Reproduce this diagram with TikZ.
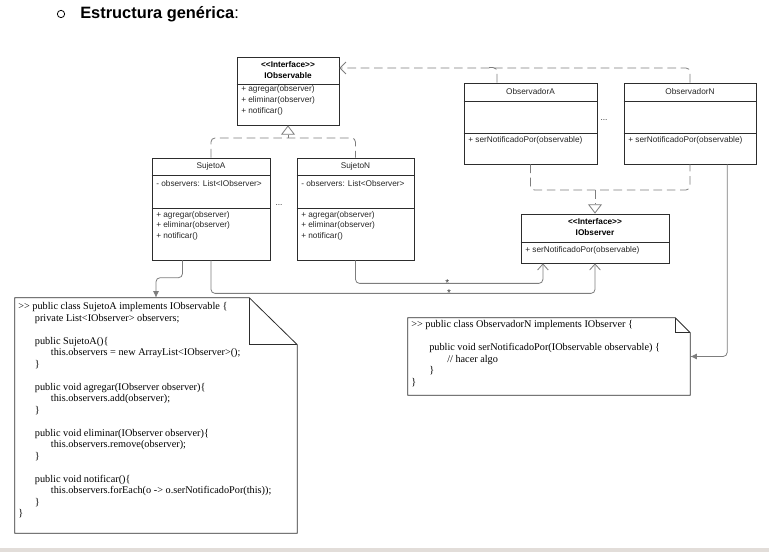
\documentclass[tikz,border=0pt]{standalone}
\usepackage{fontspec}
\setmainfont{Liberation Serif}
\setsansfont{Liberation Sans}
\usetikzlibrary{positioning,fit,calc,arrows.meta}

\definecolor{linegray}{RGB}{125,125,125}
\definecolor{boxline}{RGB}{45,45,45}
\definecolor{bandgray}{RGB}{226,221,217}

\tikzset{
  umlbox/.style={draw=boxline,line width=0.6pt,inner sep=0pt},
  divider/.style={draw=boxline,line width=0.6pt},
  boxname/.style={font=\sffamily\fontsize{6.2}{7}\selectfont,text=black!85,inner sep=0pt},
  boxhead/.style={font=\sffamily\bfseries\fontsize{6.2}{8.25}\selectfont,align=center,inner sep=0pt},
  members/.style={font=\sffamily\fontsize{6.2}{7.9}\selectfont,align=left,anchor=north west,inner sep=0pt,text=black!85},
  codetext/.style={font=\fontsize{7.7}{8.625}\selectfont,align=left,anchor=north west,inner sep=0pt},
  realize/.style={draw=linegray,dash pattern=on 6.5pt off 3.5pt,line width=0.6pt},
  assoc/.style={draw=linegray,line width=0.6pt,rounded corners=3pt},
  star/.style={font=\sffamily\fontsize{7.5}{8}\selectfont,inner sep=0pt,text=black!80},
}

\begin{document}
\begin{tikzpicture}[x=0.75pt,y=-0.75pt]
\useasboundingbox (0,0) rectangle (769,552);
\fill[bandgray] (0,548) rectangle (769,552);

% title
\node[circle,draw,line width=0.6pt,inner sep=0pt,minimum size=5.5pt] (bullet) at (61,14) {};
\node[anchor=base west,font=\sffamily\bfseries\fontsize{12.3}{15}\selectfont,inner sep=0pt] (title) at (80,19) {Estructura genérica\textmd{:}};

% class boxes
\node[umlbox,fit={(237,57) (339,125)}] (iobs) {};
\node[umlbox,fit={(152,158) (270,260)}] (sujA) {};
\node[umlbox,fit={(297,158) (414,260)}] (sujN) {};
\node[umlbox,fit={(464,83) (597,164)}] (obsA) {};
\node[umlbox,fit={(624,83) (756,164)}] (obsN) {};
\node[umlbox,fit={(521,214) (669,263)}] (iobsr) {};

\draw[divider] (iobs.west |- 0,84) -- (iobs.east |- 0,84);
\draw[divider] (iobsr.west |- 0,242) -- (iobsr.east |- 0,242);
\foreach \b in {sujA,sujN}{
  \draw[divider] (\b.west |- 0,175) -- (\b.east |- 0,175);
  \draw[divider] (\b.west |- 0,208) -- (\b.east |- 0,208);
}
\foreach \b in {obsA,obsN}{
  \draw[divider] (\b.west |- 0,101) -- (\b.east |- 0,101);
  \draw[divider] (\b.west |- 0,133) -- (\b.east |- 0,133);
}

\node[boxhead] (iobshead) at (288,70.5) {<{}<Interface>{}>\\IObservable};
\node[members] (iobsops) at (241,85) {+ agregar(observer)\\[0.35pt]+ eliminar(observer)\\[0.35pt]+ notificar()};

\node[boxname] (sujAname) at (211,166) {SujetoA};
\node[members] (sujAattr) at (156,180) {- observers: List<IObserver>};
\node[members] (sujAops) at (156,211) {+ agregar(observer)\\+ eliminar(observer)\\+ notificar()};

\node[boxname] (sujNname) at (355.5,166) {SujetoN};
\node[members] (sujNattr) at (301,180) {- observers: List<Observer>};
\node[members] (sujNops) at (301,211) {+ agregar(observer)\\+ eliminar(observer)\\+ notificar()};

\node[boxname] (dotsS) at (279,205) {...};

\node[boxname] (obsAname) at (530.5,91.5) {ObservadorA};
\node[members] (obsAops) at (468,136) {+ serNotificadoPor(observable)};
\node[boxname] (obsNname) at (690,91.5) {ObservadorN};
\node[members] (obsNops) at (628,136) {+ serNotificadoPor(observable)};
\node[boxname] (dotsO) at (604,120) {...};

\node[boxhead] (iobsrhead) at (595,227.5) {<{}<Interface>{}>\\IObserver};
\node[members] (iobsrops) at (525,246) {+ serNotificadoPor(observable)};

% code notes
\node[fit={(15,298) (297,533)},inner sep=0pt] (codeA) {};
\draw[umlbox] (codeA.north west) -- ($(codeA.north east)+(-48,0)$) -- ($(codeA.north east)+(0,47)$) -- (codeA.south east) -- (codeA.south west) -- cycle;
\draw[umlbox] ($(codeA.north east)+(-48,0)$) |- ($(codeA.north east)+(0,47)$);
\node[codetext] (codeAtext) at (18,302.5) {%
>{}> public class SujetoA implements IObservable \{\\
\hspace*{12.5pt}private List<IObserver> observers;\\
\mbox{}\\
\hspace*{12.5pt}public SujetoA()\{\\
\hspace*{24.5pt}this.observers = new ArrayList<IObserver>();\\
\hspace*{12.5pt}\}\\
\mbox{}\\
\hspace*{12.5pt}public void agregar(IObserver observer)\{\\
\hspace*{24.5pt}this.observers.add(observer);\\
\hspace*{12.5pt}\}\\
\mbox{}\\
\hspace*{12.5pt}public void eliminar(IObserver observer)\{\\
\hspace*{24.5pt}this.observers.remove(observer);\\
\hspace*{12.5pt}\}\\
\mbox{}\\
\hspace*{12.5pt}public void notificar()\{\\
\hspace*{24.5pt}this.observers.forEach(o -> o.serNotificadoPor(this));\\
\hspace*{12.5pt}\}\\
\}};

\node[fit={(408,318) (690,395)},inner sep=0pt] (noteN) {};
\draw[umlbox] (noteN.north west) -- ($(noteN.north east)+(-15,0)$) -- ($(noteN.north east)+(0,15)$) -- (noteN.south east) -- (noteN.south west) -- cycle;
\draw[umlbox] ($(noteN.north east)+(-15,0)$) |- ($(noteN.north east)+(0,15)$);
\node[codetext] (noteNtext) at (411,320.5) {%
>{}> public class ObservadorN implements IObserver \{\\
\mbox{}\\
\hspace*{13.5pt}public void serNotificadoPor(IObservable observable) \{\\
\hspace*{27pt}// hacer algo\\
\hspace*{13.5pt}\}\\
\}};

% generalization / realization
\draw[realize,rounded corners=3pt] (sujA.north) |- (sujN.north |- 0,138) -- (sujN.north);
\coordinate (gA) at (iobs.south |- 0,138);
\draw[realize,-{Triangle[open,length=7pt,width=10.5pt]}] (gA) -- (iobs.south);

\draw[realize,rounded corners=3pt] (obsA.south) |- (obsN.south |- 0,190) -- (obsN.south);
\coordinate (gB) at (iobsr.north |- 0,190);
\draw[realize,-{Triangle[open,length=7pt,width=10.5pt]}] (gB) -- (iobsr.north);

% dependency on IObservable
\coordinate (oA) at ($(obsA.north west)!0.25!(obsA.north east)$);
\draw[realize,rounded corners=3pt,-{Straight Barb[length=4.5pt,width=9pt]}] (obsN.north) |- (iobs.east |- 0,68);
\draw[realize,rounded corners=3pt] (oA) |- ++(-8,-15);

% associations
\coordinate (rN) at ($(iobsr.south west)!0.15!(iobsr.south east)$);
\draw[assoc,-{Straight Barb[length=4.5pt,width=8pt]}] (sujN.south) |- node[star,pos=0.745,above=-3pt] (starN) {*} ($(rN)+(0,20)$) -- (rN);
\draw[assoc,-{Straight Barb[length=4.5pt,width=8pt]}] (sujA.south) |- node[star,pos=0.81,above=-3pt] (starA) {*} ($(iobsr.south)+(0,30)$) -- (iobsr.south);

% links to code notes
\coordinate (sA) at ($(sujA.south west)!0.26!(sujA.south east)$);
\draw[assoc,-{Latex[length=5pt,width=4.5pt]}] (sA) |- ($(codeA.north)+(0,-20)$) -- (codeA.north);
\coordinate (oN) at ($(obsN.south west)!0.78!(obsN.south east)$);
\draw[assoc,-{Latex[length=5pt,width=4.5pt]}] (oN) |- (noteN.east);
\end{tikzpicture}
\end{document}
